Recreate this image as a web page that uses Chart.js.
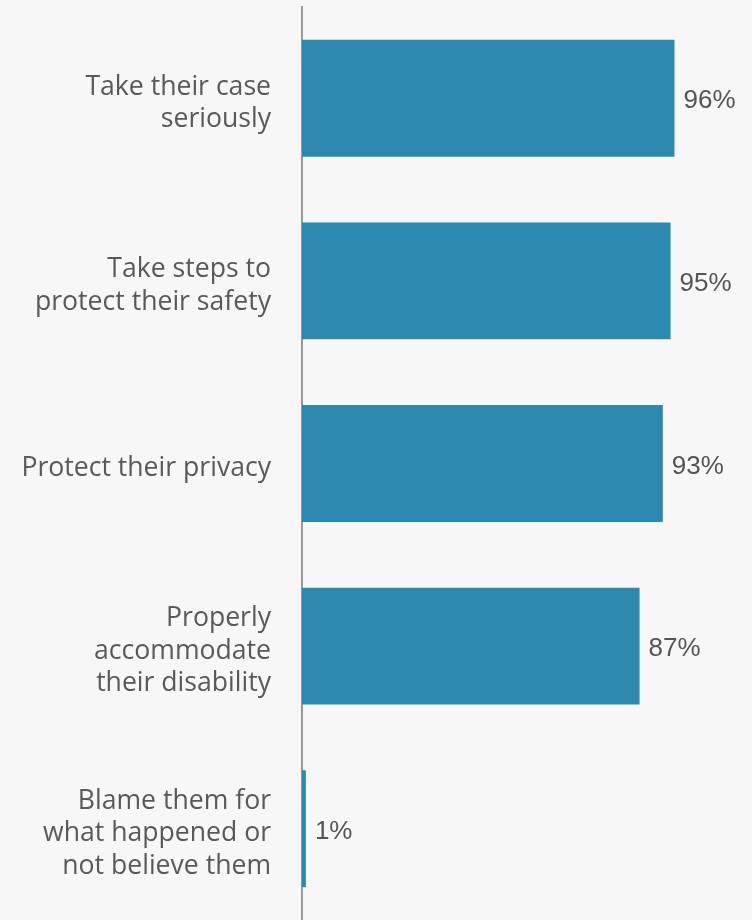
<!DOCTYPE html>
<html lang="en">
<head>
    <meta charset="UTF-8">
    <script src="https://cdn.jsdelivr.net/npm/chart.js@4.4.0/dist/chart.umd.min.js"></script>
    <title>Expectations of response</title>
    <style>
        html,body{margin:0; padding:0; background:#f7f7f7;}
        #box{width:752px; height:920px; position:relative;}
    </style>
</head>
<body>
    <div id="box">
        <canvas id="myChart"></canvas>
    </div>
    <script>
        const categories = [
            ['Take their case', 'seriously'],
            ['Take steps to', 'protect their safety'],
            ['Protect their privacy'],
            ['Properly', 'accommodate', 'their disability'],
            ['Blame them for', 'what happened or', 'not believe them']
        ]
        const percents = [96, 95, 93, 87, 1]

        // percentage printed just past the end of each bar,
        // and category labels nudged a little below the bar middle
        const valueLabels = {
            id: 'valueLabels',
            afterUpdate(chart){
                chart.scales.y.getLabelItems().forEach(function(item){
                    item.options.translation[1] += 5
                })
            },
            afterDatasetsDraw(chart){
                const ctx = chart.ctx
                const meta = chart.getDatasetMeta(0)
                ctx.save()
                ctx.font = '26px "Liberation Sans", Arial, sans-serif'
                ctx.fillStyle = '#555555'
                ctx.textAlign = 'left'
                ctx.textBaseline = 'middle'
                meta.data.forEach(function(bar, i){
                    ctx.fillText(percents[i] + '%', bar.x + 9, bar.y + 3)
                })
                ctx.restore()
            }
        }

        const ctx = document.getElementById('myChart').getContext('2d')
        const myChart = new Chart(ctx, {
            type: 'bar',
            data: {
                labels: categories,
                datasets: [{
                    data: percents,
                    backgroundColor: '#2e89b0',
                    borderWidth: 0,
                    categoryPercentage: 0.64,
                    barPercentage: 1
                }]
            },
            options: {
                indexAxis: 'y',
                responsive: true,
                maintainAspectRatio: false,
                animation: false,
                layout: {padding: {top: 7, right: 62, bottom: 0, left: 0}},
                plugins: {
                    legend: {display: false},
                    tooltip: {enabled: false}
                },
                scales: {
                    x: {
                        display: false,
                        min: 0,
                        max: 100
                    },
                    y: {
                        afterFit: function(scale){
                            scale.width = 302
                            scale.paddingTop = 0
                            scale.paddingBottom = 0
                        },
                        grid: {display: false, drawTicks: false},
                        border: {display: true, color: '#999999', width: 2},
                        ticks: {
                            padding: 31,
                            color: '#595959',
                            font: {family: '"Open Sans", sans-serif', size: 26.6, lineHeight: 1.22}
                        }
                    }
                }
            },
            plugins: [valueLabels]
        })//chart
    </script>
</body>
</html>
